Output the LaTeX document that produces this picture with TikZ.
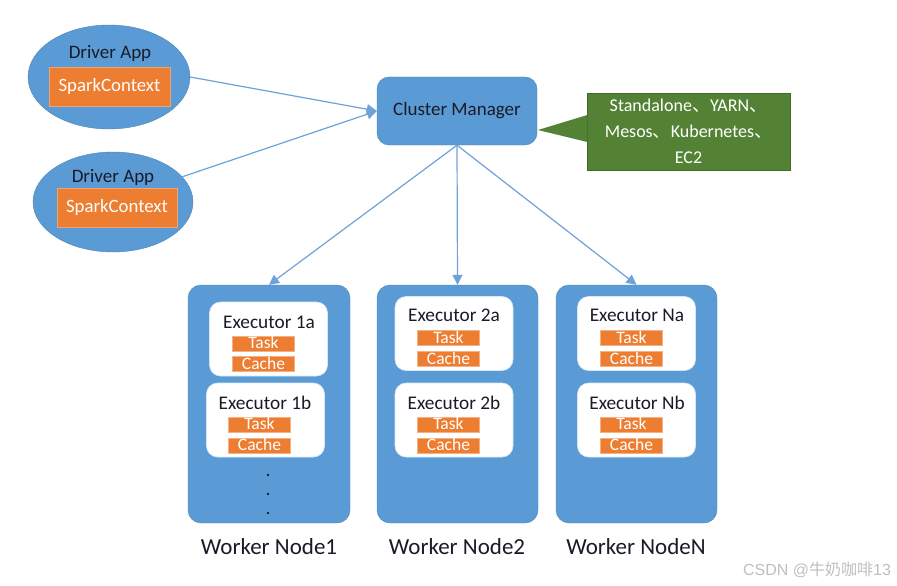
\documentclass[tikz,border=0pt]{standalone}
\usepackage{fontspec}
\setmainfont{Carlito}
\newfontfamily\cjk{Noto Sans CJK SC}
\newfontfamily\wmfont{Liberation Sans}
\usetikzlibrary{shapes.geometric,arrows.meta}
\definecolor{cblue}{HTML}{5B9BD5}
\definecolor{corange}{HTML}{ED7D31}
\definecolor{cgreen}{HTML}{548235}
\definecolor{cline}{HTML}{6FA3D8}
\definecolor{ctext}{HTML}{1A1A28}
\tikzset{
  drv/.style={ellipse, fill=cblue, draw=cblue!85!black, line width=0.4pt, inner sep=0pt},
  obox/.style={rectangle, fill=corange, draw=corange!70!white, line width=0.8pt, text=white, inner sep=0pt},
  lbl/.style={text=ctext, inner sep=0pt},
  cmbox/.style={rectangle, rounded corners=12pt, fill=cblue, draw=cblue!85!black, line width=0.4pt, inner sep=0pt},
  wbox/.style={rectangle, rounded corners=13pt, fill=cblue, draw=cblue!85!black, line width=0.4pt, inner sep=0pt},
  ebox/.style={rectangle, rounded corners=11pt, fill=white, draw=cblue!25!white, line width=0.6pt, inner sep=0pt, minimum width=118pt, minimum height=74pt},
  tbox/.style={rectangle, fill=corange, draw=corange!60!white, line width=0.6pt, text=white, inner xsep=0pt, inner ysep=1.5pt, text height=11.2pt, text depth=0.8pt, minimum width=62pt, font=\fontsize{17.5}{17.5}\selectfont},
  conn/.style={draw=cline, line width=1.2pt, -{Triangle[length=10pt,width=10pt]}},
  exl/.style={lbl, font=\fontsize{19.3}{19.3}\selectfont},
  dvl/.style={lbl, font=\fontsize{19}{19}\selectfont},
  wkl/.style={lbl, font=\fontsize{23}{23}\selectfont},
}
\begin{document}
\begin{tikzpicture}[x=1pt,y=-1pt]
\useasboundingbox[fill=white] (0,0) rectangle (897,586);

% drivers
\node[drv, minimum width=162pt, minimum height=104pt] (d1) at (109,77) {};
\node[dvl] (d1t) at (110,53) {Driver App};
\node[obox, minimum width=121pt, minimum height=39pt, font=\fontsize{18.8}{18.8}\selectfont] (sc1) at (109.5,86.5) {SparkContext};

\node[drv, minimum width=160pt, minimum height=100pt] (d2) at (113,202) {};
\node[dvl] (d2t) at (113,177) {Driver App};
\node[obox, minimum width=120pt, minimum height=39pt, font=\fontsize{18.8}{18.8}\selectfont] (sc2) at (117,207.5) {SparkContext};

% cluster manager
\node[cmbox, minimum width=160pt, minimum height=68pt, text=ctext, font=\fontsize{19}{19}\selectfont] (cm) at (457,111) {Cluster Manager};

% callout
\node[rectangle, fill=cgreen, draw=cgreen!80!black, line width=0.4pt, minimum width=203pt, minimum height=77pt, text=white, align=center, font=\fontsize{18}{26}\selectfont] (cb) at (688.5,131.5) {Standalone{\cjk 、}YARN{\cjk 、}\\Mesos{\cjk 、}Kubernetes{\cjk 、}\\EC2};
\coordinate (tip) at (538,130);
\fill[cgreen] (tip) -- ([yshift=16.5pt,xshift=0.5pt]cb.west) -- ([yshift=-10.5pt,xshift=0.5pt]cb.west) -- cycle;

% workers
\node[wbox, minimum width=162pt, minimum height=238pt] (w1) at (269,404) {};
\node[wbox, minimum width=161pt, minimum height=238pt] (w2) at (457.5,404) {};
\node[wbox, minimum width=161pt, minimum height=238pt] (wN) at (636.5,404) {};

\node[wkl] (w1t) at (269,547) {Worker Node1};
\node[wkl] (w2t) at (457,547) {Worker Node2};
\node[wkl] (wNt) at (636,547) {Worker NodeN};

% executors
\node[ebox] (e1a) at (268.5,339) {};
\node[ebox] (e1b) at (265.5,420) {};
\node[ebox] (e2a) at (454,333.5) {};
\node[ebox] (e2b) at (454,420) {};
\node[ebox] (eNa) at (636.5,333.5) {};
\node[ebox] (eNb) at (636.5,420) {};

\node[exl] (e1at) at (269,322) {Executor 1a};
\node[exl] (e1bt) at (265,403) {Executor 1b};
\node[exl] (e2at) at (454,315) {Executor 2a};
\node[exl] (e2bt) at (454,403) {Executor 2b};
\node[exl] (eNat) at (637,315) {Executor Na};
\node[exl] (eNbt) at (637,403) {Executor Nb};

\node[tbox] (t1a) at (263.5,343.5) {Task};
\node[tbox] (c1a) at (263.5,364) {Cache};
\node[tbox] (t1b) at (259.5,424.5) {Task};
\node[tbox] (c1b) at (259.5,445.5) {Cache};
\node[tbox] (t2a) at (448.5,338) {Task};
\node[tbox] (c2a) at (448.5,359) {Cache};
\node[tbox] (t2b) at (448.5,424.5) {Task};
\node[tbox] (c2b) at (448.5,445.5) {Cache};
\node[tbox] (tNa) at (631.5,338) {Task};
\node[tbox] (cNa) at (631.5,359) {Cache};
\node[tbox] (tNb) at (631.5,424.5) {Task};
\node[tbox] (cNb) at (631.5,445.5) {Cache};

% dots
\fill[ctext] (268,475) circle (1.3pt);
\fill[ctext] (268,494) circle (1.3pt);
\fill[ctext] (268,513) circle (1.3pt);

% connectors
\draw[conn] (d1.east) -- (cm.west);
\draw[conn] (d2.20) -- (cm.west);
\draw[conn] (cm.south) -- (w1.north);
\draw[conn] (cm.south) -- (w2.north);
\draw[conn] (cm.south) -- (wN.north);

% watermark
\node[text=gray!50, inner sep=0pt, font=\fontsize{16}{16}\selectfont\wmfont] (wm) at (817,570) {CSDN @{\cjk 牛奶咖啡}13};
\end{tikzpicture}
\end{document}
